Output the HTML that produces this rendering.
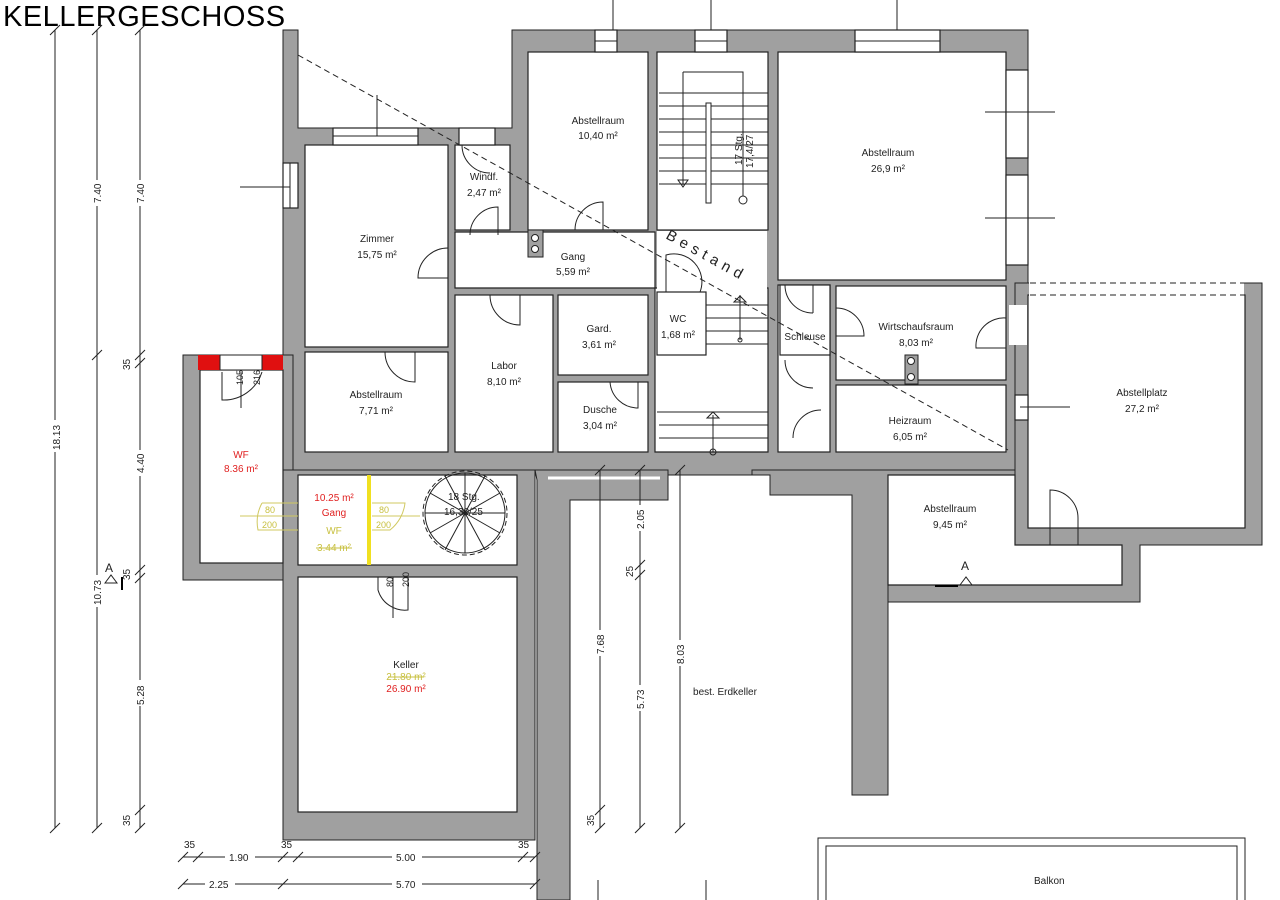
<!DOCTYPE html>
<html><head><meta charset="utf-8"><style>
html,body{margin:0;padding:0;background:#fff;width:1280px;height:900px;overflow:hidden}
svg{display:block}
text{font-family:"Liberation Sans",sans-serif;font-size:10px;fill:#222}
.w{fill:#a0a0a0;stroke:#222;stroke-width:1}
.r{fill:#fff;stroke:#222;stroke-width:1.2}
.l{stroke:#222;stroke-width:1;fill:none}
.d{stroke:#222;stroke-width:1;fill:none;stroke-dasharray:6 4}
.c{text-anchor:middle}
.red{fill:#e02020}
.yel{fill:#c8c040}
</style></head><body>
<svg width="1280" height="900" viewBox="0 0 1280 900" xmlns="http://www.w3.org/2000/svg">
<text x="3" y="26" style="font-size:29px;fill:#000;letter-spacing:0.5px">KELLERGESCHOSS</text>

<line class="l" x1="613" y1="0" x2="613" y2="40"/>
<line class="l" x1="711" y1="0" x2="711" y2="40"/>
<line class="l" x1="897" y1="0" x2="897" y2="40"/>

<polygon class="w" points="283,30 298,30 298,128 512,128 512,30 1028,30 1028,475 283,475"/>
<rect class="w" x="183" y="355" width="110" height="225"/>
<rect class="w" x="283" y="470" width="252" height="370"/>
<polygon class="w" points="535,470 668,470 668,500 570,500 570,900 537,900 537,480"/>
<line class="l" x1="548" y1="478" x2="660" y2="478" style="stroke:#fff;stroke-width:3"/>
<polygon class="w" points="752,470 1028,470 1028,475 888,475 888,795 852,795 852,495 770,495 770,475 752,475"/>
<polygon class="w" points="1015,283 1262,283 1262,545 1140,545 1140,602 888,602 888,585 1122,585 1122,545 1015,545"/>

<rect x="299" y="31" width="212" height="96" fill="#fff"/>
<rect class="r" x="305" y="145" width="143" height="202"/>
<rect class="r" x="455" y="145" width="55" height="85"/>
<rect class="r" x="528" y="52" width="120" height="178"/>
<rect class="r" x="657" y="52" width="111" height="178"/>
<rect class="r" x="778" y="52" width="228" height="228"/>
<polygon class="r" points="455,232 655,232 655,452 768,452 768,288 706,288 706,288 455,288"/>
<rect x="657" y="231" width="110" height="60" fill="#fff"/>
<rect class="r" x="455" y="295" width="98" height="157"/>
<rect class="r" x="558" y="295" width="90" height="80"/>
<rect class="r" x="558" y="382" width="90" height="70"/>
<rect class="r" x="657" y="292" width="49" height="63"/>
<rect class="r" x="305" y="352" width="143" height="100"/>
<rect class="r" x="778" y="285" width="52" height="167"/>
<rect class="r" x="780" y="285" width="50" height="70"/>
<rect class="r" x="836" y="286" width="170" height="94"/>
<rect class="r" x="836" y="385" width="170" height="67"/>
<rect class="r" x="200" y="370" width="83" height="193"/>
<rect class="r" x="298" y="475" width="219" height="90"/>
<rect class="r" x="298" y="577" width="219" height="235"/>
<polygon class="r" points="888,475 1015,475 1015,545 1122,545 1122,585 888,585"/>
<rect class="r" x="1028" y="295" width="217" height="233"/>
<rect x="1029" y="282" width="215" height="14" fill="#fff"/>
<rect x="1016" y="476" width="11" height="68" fill="#a0a0a0"/>
<line class="l" x1="1015" y1="475" x2="1015" y2="545"/>
<line class="l" x1="1028" y1="475" x2="1028" y2="528"/>

<rect class="r" x="333" y="128" width="85" height="17"/><line class="l" x1="333" y1="136" x2="418" y2="136"/>
<line class="l" x1="377" y1="95" x2="377" y2="136"/>
<rect class="r" x="283" y="163" width="15" height="45"/><line class="l" x1="290" y1="163" x2="290" y2="208"/>
<line class="l" x1="240" y1="187" x2="290" y2="187"/>
<rect class="r" x="595" y="30" width="22" height="22"/><line class="l" x1="595" y1="41" x2="617" y2="41"/>
<rect class="r" x="695" y="30" width="32" height="22"/><line class="l" x1="695" y1="41" x2="727" y2="41"/>
<rect class="r" x="855" y="30" width="85" height="22"/><line class="l" x1="855" y1="41" x2="940" y2="41"/>
<rect class="r" x="1006" y="70" width="22" height="88"/><rect class="r" x="1006" y="175" width="22" height="90"/>
<line class="l" x1="985" y1="112" x2="1055" y2="112"/><line class="l" x1="985" y1="218" x2="1055" y2="218"/>
<rect class="r" x="1015" y="395" width="13" height="25"/><line class="l" x1="1020" y1="407" x2="1070" y2="407"/>
<rect class="r" x="459" y="128" width="36" height="17"/>
<rect x="1009" y="305" width="18" height="40" fill="#fff"/>

<rect x="198" y="355" width="22" height="15" fill="#e01010"/>
<rect x="262" y="355" width="21" height="15" fill="#e01010"/>
<rect x="220" y="355" width="42" height="15" fill="#fff" stroke="#222"/>

<g class="l">
<path d="M448,248 A30,30 0 0 0 418,278 L448,278"/>
<path d="M470,235 A28,28 0 0 1 498,207 L498,235"/>
<path d="M462,145 A28,28 0 0 0 490,173"/>
<path d="M575,230 A28,28 0 0 1 603,202 L603,230"/>
<path d="M490,295 A30,30 0 0 0 520,325 L520,295"/>
<path d="M385,352 A30,30 0 0 0 415,382 L415,352"/>
<path d="M610,382 A28,28 0 0 0 638,408 L638,382"/>
<path d="M666,292 L666,255 A28,28 0 0 1 700,292"/>
<path d="M785,285 A28,28 0 0 0 813,313 M813,285 L813,313"/>
<path d="M785,360 A28,28 0 0 0 813,388"/>
<path d="M793,438 A28,28 0 0 1 821,410"/>
<path d="M836,308 A28,28 0 0 1 864,336 L836,336"/>
<path d="M1006,318 A28,28 0 0 0 976,348 L1006,348"/>
<path d="M1050,545 L1050,490 A28,28 0 0 1 1078,518 L1078,545"/>
<path d="M222,372 L222,400 A40,40 0 0 0 262,372 M241,372 L241,408"/>
<path d="M378,577 L378,590 A28,28 0 0 0 408,610 L408,577 M393,577 L393,618"/>
</g>
<text x="236" y="392" transform="rotate(-90 236 385)" style="font-size:9px">105</text>
<text x="253" y="392" transform="rotate(-90 253 385)" style="font-size:9px">216</text>
<text x="390" y="596" transform="rotate(-90 387 590)" style="font-size:9px">80</text>
<text x="405" y="597" transform="rotate(-90 402 590)" style="font-size:9px">200</text>

<g stroke="#d0c860" fill="none">
<path d="M240,516 L298,516 M262,503 A40,40 0 0 0 258,530 L298,530 M262,503 L298,503"/>
<path d="M372,503 L405,503 A40,40 0 0 1 390,530 L372,530 M372,516 L420,516"/>
</g>
<rect x="367" y="475" width="4" height="90" fill="#f0e020"/>
<text x="265" y="513" class="yel" style="font-size:9px">80</text>
<text x="262" y="528" class="yel" style="font-size:9px">200</text>
<text x="379" y="513" class="yel" style="font-size:9px">80</text>
<text x="376" y="528" class="yel" style="font-size:9px">200</text>

<g class="l">
<circle cx="465" cy="513" r="40"/>
<circle cx="465" cy="513" r="42" stroke-dasharray="5 3"/>
<path d="M465,513 L505,513 M465,513 L500,533 M465,513 L485,550 M465,513 L465,553 M465,513 L445,550 M465,513 L430,533 M465,513 L425,513 M465,513 L430,493 M465,513 L445,476 M465,513 L465,473 M465,513 L485,476 M465,513 L500,493"/>
</g>
<text x="448" y="500" style="font-size:10px">18 Stg.</text>
<text x="444" y="515" style="font-size:10px">16,30/25</text>

<g class="l">
<path d="M659,93 L768,93 M659,106 L768,106 M659,119 L768,119 M659,132 L768,132 M659,145 L768,145 M659,158 L768,158 M659,171 L768,171 M659,184 L768,184"/>
<path d="M683,72 L743,72 L743,200 M683,72 L683,185"/>
<rect x="706" y="103" width="5" height="100" fill="#fff"/>
<circle cx="743" cy="200" r="4" fill="#fff"/>
<path d="M678,180 L688,180 L683,187 Z"/>
<path d="M706,305 L768,305 M706,318 L768,318 M706,331 L768,331 M706,344 L768,344"/>
<path d="M740,295 L740,340"/><circle cx="740" cy="340" r="2"/>
<path d="M734,302 L740,296 L746,302 Z"/>
<path d="M659,425 L768,425 M659,438 L768,438 M657,412 L768,412"/>
<path d="M713,415 L713,452"/><circle cx="713" cy="452" r="3"/>
<path d="M707,418 L713,412 L719,418 Z"/>
</g>
<text x="742" y="165" transform="rotate(-90 742 165)" style="font-size:10px">17 Stg.</text>
<text x="753" y="168" transform="rotate(-90 753 168)" style="font-size:10px">17,4/27</text>

<rect class="w" x="528" y="230" width="15" height="27"/><circle cx="535" cy="238" r="3.5" fill="#fff" stroke="#222"/><circle cx="535" cy="249" r="3.5" fill="#fff" stroke="#222"/>
<rect class="w" x="905" y="355" width="13" height="29"/><circle cx="911" cy="361" r="3.5" fill="#fff" stroke="#222"/><circle cx="911" cy="377" r="3.5" fill="#fff" stroke="#222"/>

<line class="d" x1="298" y1="55" x2="1008" y2="450"/>
<line class="d" x1="1030" y1="283" x2="1245" y2="283"/>
<line class="d" x1="1030" y1="295" x2="1245" y2="295"/>
<text x="665" y="238" transform="rotate(29 665 238)" style="font-size:15px;letter-spacing:5px">Bestand</text>

<g class="c">
<text x="598" y="124" class="c">Abstellraum</text><text x="598" y="139" class="c">10,40 m²</text>
<text x="888" y="156" class="c">Abstellraum</text><text x="888" y="172" class="c">26,9 m²</text>
<text x="377" y="242" class="c">Zimmer</text><text x="377" y="258" class="c">15,75 m²</text>
<text x="484" y="180" class="c">Windf.</text><text x="484" y="196" class="c">2,47 m²</text>
<text x="573" y="260" class="c">Gang</text><text x="573" y="275" class="c">5,59 m²</text>
<text x="599" y="332" class="c">Gard.</text><text x="599" y="348" class="c">3,61 m²</text>
<text x="678" y="322" class="c">WC</text><text x="678" y="338" class="c">1,68 m²</text>
<text x="504" y="369" class="c">Labor</text><text x="504" y="385" class="c">8,10 m²</text>
<text x="600" y="413" class="c">Dusche</text><text x="600" y="429" class="c">3,04 m²</text>
<text x="376" y="398" class="c">Abstellraum</text><text x="376" y="414" class="c">7,71 m²</text>
<text x="805" y="340" class="c">Schleuse</text>
<text x="916" y="330" class="c">Wirtschaufsraum</text><text x="916" y="346" class="c">8,03 m²</text>
<text x="910" y="424" class="c">Heizraum</text><text x="910" y="440" class="c">6,05 m²</text>
<text x="1142" y="396" class="c">Abstellplatz</text><text x="1142" y="412" class="c">27,2 m²</text>
<text x="950" y="512" class="c">Abstellraum</text><text x="950" y="528" class="c">9,45 m²</text>
<text x="241" y="458" class="c red">WF</text><text x="241" y="472" class="c red">8.36 m²</text>
<text x="334" y="501" class="c red">10.25 m²</text><text x="334" y="516" class="c red">Gang</text>
<text x="334" y="534" class="c yel">WF</text><text x="334" y="551" class="c yel">3.44 m²</text>
<line x1="316" y1="548" x2="352" y2="548" stroke="#c8c040"/>
<text x="406" y="668" class="c">Keller</text>
<text x="406" y="680" class="c yel">21.80 m²</text><line x1="388" y1="677" x2="424" y2="677" stroke="#c8c040"/>
<text x="406" y="692" class="c red">26.90 m²</text>
<text x="725" y="695" class="c">best. Erdkeller</text>
</g>

<text x="105" y="572" style="font-size:12px">A</text><path class="l" d="M105,583 L111,575 L117,583 Z"/><line x1="122" y1="577" x2="122" y2="590" stroke="#000" stroke-width="2"/>
<text x="961" y="570" style="font-size:12px">A</text><path class="l" d="M960,585 L966,577 L972,585 Z"/><line x1="935" y1="586" x2="958" y2="586" stroke="#000" stroke-width="2"/>

<g class="l">
<line x1="55" y1="30" x2="55" y2="828"/><line x1="97" y1="30" x2="97" y2="828"/><line x1="140" y1="30" x2="140" y2="828"/>
<path d="M50,35 L60,25 M50,833 L60,823 M92,35 L102,25 M92,360 L102,350 M92,833 L102,823 M135,35 L145,25 M135,360 L145,350 M135,368 L145,358 M135,575 L145,565 M135,583 L145,573 M135,815 L145,805 M135,833 L145,823"/>
<line x1="600" y1="470" x2="600" y2="828"/><line x1="640" y1="470" x2="640" y2="828"/><line x1="680" y1="470" x2="680" y2="828"/>
<path d="M595,475 L605,465 M595,833 L605,823 M635,475 L645,465 M635,570 L645,560 M635,580 L645,570 M635,833 L645,823 M675,475 L685,465 M675,833 L685,823 M595,815 L605,805"/>
<line x1="183" y1="857" x2="535" y2="857"/><line x1="183" y1="884" x2="535" y2="884"/>
<path d="M178,862 L188,852 M193,862 L203,852 M278,862 L288,852 M293,862 L303,852 M518,862 L528,852 M530,862 L540,852 M178,889 L188,879 M278,889 L288,879 M530,889 L540,879"/>
</g>
<g style="font-size:10px">
<rect x="48" y="420" width="14" height="32" fill="#fff"/><text x="60" y="450" transform="rotate(-90 60 450)">18.13</text>
<rect x="90" y="180" width="14" height="26" fill="#fff"/><text x="101" y="203" transform="rotate(-90 101 203)">7.40</text>
<rect x="133" y="180" width="14" height="26" fill="#fff"/><text x="144" y="203" transform="rotate(-90 144 203)">7.40</text>
<text x="130" y="370" transform="rotate(-90 130 370)">35</text>
<rect x="133" y="450" width="14" height="26" fill="#fff"/><text x="144" y="473" transform="rotate(-90 144 473)">4.40</text>
<text x="130" y="580" transform="rotate(-90 130 580)">35</text>
<rect x="90" y="575" width="14" height="32" fill="#fff"/><text x="101" y="605" transform="rotate(-90 101 605)">10.73</text>
<rect x="133" y="680" width="14" height="26" fill="#fff"/><text x="144" y="705" transform="rotate(-90 144 705)">5.28</text>
<text x="130" y="826" transform="rotate(-90 130 826)">35</text>
<rect x="593" y="630" width="14" height="26" fill="#fff"/><text x="604" y="654" transform="rotate(-90 604 654)">7.68</text>
<rect x="633" y="505" width="14" height="26" fill="#fff"/><text x="644" y="529" transform="rotate(-90 644 529)">2.05</text>
<text x="633" y="577" transform="rotate(-90 633 577)">25</text>
<rect x="633" y="685" width="14" height="26" fill="#fff"/><text x="644" y="709" transform="rotate(-90 644 709)">5.73</text>
<text x="594" y="826" transform="rotate(-90 594 826)">35</text>
<rect x="673" y="640" width="14" height="26" fill="#fff"/><text x="684" y="664" transform="rotate(-90 684 664)">8.03</text>
<text x="184" y="848">35</text><text x="281" y="848">35</text><text x="518" y="848">35</text>
<rect x="225" y="850" width="30" height="14" fill="#fff"/><text x="229" y="861">1.90</text>
<rect x="392" y="850" width="30" height="14" fill="#fff"/><text x="396" y="861">5.00</text>
<rect x="205" y="877" width="30" height="14" fill="#fff"/><text x="209" y="888">2.25</text>
<rect x="392" y="877" width="30" height="14" fill="#fff"/><text x="396" y="888">5.70</text>
</g>

<rect class="l" x="818" y="838" width="427" height="70"/>
<rect class="l" x="826" y="846" width="411" height="60"/>
<text x="1034" y="884">Balkon</text>
<line class="l" x1="598" y1="880" x2="598" y2="900"/><line class="l" x1="706" y1="880" x2="706" y2="900"/>
</svg>
</body></html>
